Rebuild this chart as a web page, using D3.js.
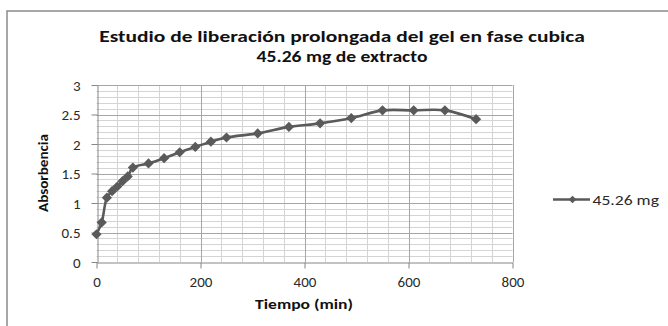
<!DOCTYPE html>
<html><head><meta charset="utf-8">
<script src="https://cdn.jsdelivr.net/npm/d3@7"></script>
<style>
body{margin:0;background:#fff;}
svg{display:block;font-family:Carlito,Calibri,Lato,"Open Sans",sans-serif;}
</style></head>
<body><svg id="c" width="668" height="326"></svg>
<script>
const titleLines = ["Estudio de liberación prolongada del gel en fase cubica", "45.26 mg de extracto"];
const xTitle = "Tiempo (min)";
const yTitle = "Absorbencia";
const seriesName = "45.26 mg";
const times = [0,10,20,30,40,50,60,70,100,130,160,190,220,250,310,370,430,490,550,610,670,730];
const absorb = [0.47,0.67,1.09,1.2,1.28,1.37,1.45,1.6,1.67,1.76,1.86,1.95,2.04,2.11,2.18,2.29,2.35,2.44,2.57,2.57,2.57,2.42];
const xTicks = [0,200,400,600,800];
const yTicks = [0,0.5,1,1.5,2,2.5,3];

const svg = d3.select("#c");
const W = 668, H = 326;
const x = d3.scaleLinear().domain([0,800]).range([96.5,512.5]);
const y = d3.scaleLinear().domain([0,3]).range([262,85]);

// frame
svg.append("rect").attr("x",7).attr("y",11).attr("width",W).attr("height",H)
  .attr("fill","none").attr("stroke","#8a8a8a").attr("stroke-width",1.5);

// place a text centred at (cx,cy), stretched horizontally to a target width
function stretchText(parent, str, cx, cy, target, opts){
  const gg = parent.append("g");
  const t = gg.append("text").attr("text-anchor",opts.anchor||"middle").attr("dy","0.35em")
    .attr("font-size",opts.size).attr("font-weight",opts.weight||"normal").attr("fill",opts.fill||"#111").text(str);
  const sx = target / t.node().getComputedTextLength();
  gg.attr("transform",`translate(${cx},${cy}) ${opts.rotate?`rotate(${opts.rotate})`:""} scale(${sx.toFixed(4)},1)`);
  return gg;
}

// gridlines
const g = svg.append("g");
const minorY = d3.range(0,3.0001,0.1).filter(v=>Math.abs(v*2-Math.round(v*2))>1e-6);
const minorX = d3.range(0,801,40).filter(v=>v%200!==0);
g.selectAll(".my").data(minorY).join("line")
  .attr("x1",x(0)).attr("x2",x(800)).attr("y1",d=>Math.round(y(d))+0.5).attr("y2",d=>Math.round(y(d))+0.5)
  .attr("stroke","#d4d4d4").attr("stroke-width",1);
g.selectAll(".mx").data(minorX).join("line")
  .attr("y1",y(0)).attr("y2",y(3)).attr("x1",d=>Math.round(x(d))+0.5).attr("x2",d=>Math.round(x(d))+0.5)
  .attr("stroke","#d4d4d4").attr("stroke-width",1);
g.selectAll(".My").data(yTicks.slice(1)).join("line")
  .attr("x1",x(0)).attr("x2",x(800)).attr("y1",d=>Math.round(y(d))+0.5).attr("y2",d=>Math.round(y(d))+0.5)
  .attr("stroke","#a6a6a6").attr("stroke-width",1);
g.selectAll(".Mx").data(xTicks.slice(1)).join("line")
  .attr("y1",y(0)).attr("y2",y(3)).attr("x1",d=>Math.round(x(d))+0.5).attr("x2",d=>Math.round(x(d))+0.5)
  .attr("stroke","#a6a6a6").attr("stroke-width",1);

// axes
const ax = svg.append("g").attr("transform",`translate(0,${Math.round(y(0))+0.5})`)
  .call(d3.axisBottom(x).tickValues(xTicks).tickSize(6).tickSizeOuter(0).tickFormat(d3.format("")));
ax.selectAll("text").attr("y",19).attr("dy","0.35em");
const ay = svg.append("g").attr("transform",`translate(${Math.round(x(0))+0.5},0)`)
  .call(d3.axisLeft(y).tickValues(yTicks).tickSize(6).tickSizeOuter(0).tickFormat(d3.format("")));
ay.selectAll("text").attr("x",-17).attr("dy","0.35em");
[ax,ay].forEach(a=>{
  a.select(".domain").attr("stroke","#868686");
  a.selectAll(".tick line").attr("stroke","#868686");
  a.selectAll("text").attr("font-size",15).attr("fill","#2a2a2a").attr("font-family","Carlito,Calibri,Lato,'Open Sans',sans-serif");
});

// series
const pts = times.map((t,i)=>[t,absorb[i]]);
svg.append("path").datum(pts)
  .attr("d",d3.line().x(d=>x(d[0])).y(d=>y(d[1])).curve(d3.curveCatmullRom.alpha(0.5)))
  .attr("fill","none").attr("stroke","#5a5a5a").attr("stroke-width",2.6);
const sym = d3.symbol().type(d3.symbolSquare).size(52);
svg.selectAll(".pt").data(pts).join("path")
  .attr("d",sym).attr("fill","#5a5a5a")
  .attr("transform",d=>`translate(${x(d[0])},${y(d[1])}) rotate(45)`);

// titles
stretchText(svg, titleLines[0], 342, 37, 486, {size:15.5, weight:"bold"});
stretchText(svg, titleLines[1], 342, 57, 171, {size:15.5, weight:"bold"});
stretchText(svg, xTitle, 304, 304, 98, {size:14, weight:"bold"});
stretchText(svg, yTitle, 43.5, 173, 78, {size:14, weight:"bold", rotate:-90});

// legend
const lg = svg.append("g").attr("transform","translate(553,199.5)");
lg.append("line").attr("x1",0).attr("x2",37).attr("stroke","#5a5a5a").attr("stroke-width",2.6);
lg.append("path").attr("d",d3.symbol().type(d3.symbolSquare).size(30)).attr("fill","#5a5a5a")
  .attr("transform","translate(19.5,0) rotate(45)");
stretchText(svg, seriesName, 592.5, 199.5, 66.5, {size:15, anchor:"start", fill:"#2a2a2a"});
</script></body></html>
